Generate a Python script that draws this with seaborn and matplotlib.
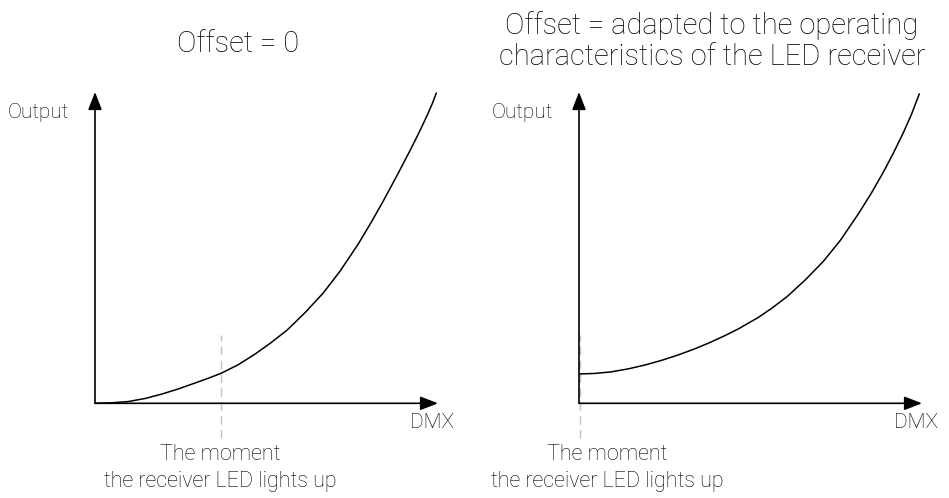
import matplotlib
matplotlib.use("Agg")
import matplotlib.pyplot as plt
import seaborn as sns
import pandas as pd

# curva sem offset (DMX 0-255, saída em %)
dmx_sem_offset = [0, 11.25, 24.75, 37.5, 50.25, 62.25, 75, 84.75, 94.5, 107.25, 120, 132, 144,
                  157.5, 171, 183.75, 197.25, 207, 216, 226.5, 236.25, 243, 249, 252.75, 255.75]
saida_sem_offset = [0, 0.13, 0.55, 1.55, 3.0, 4.61, 6.55, 8.06, 9.68, 12.42, 15.90, 19.58, 23.64,
                    29.28, 35.57, 42.70, 51.38, 58.41, 65.25, 73.63, 81.69, 87.50, 92.98, 96.69, 100.08]

# curva com offset adaptado ao receptor
dmx_com_offset = [0, 12, 24, 36.75, 49.5, 62.25, 74.25, 87, 99, 109.5, 119.25, 134.25, 144.75,
                  156, 169.5, 183, 195.75, 209.25, 219, 228, 235.5, 243, 249, 255]
saida_com_offset = [9.45, 9.64, 10.13, 11.09, 12.35, 13.90, 15.58, 17.61, 19.77, 21.87, 23.96, 27.67,
                    30.74, 34.45, 39.77, 45.74, 52.51, 61.05, 67.75, 74.52, 80.65, 87.26, 93.07, 99.79]

# ponto em que o LED acende
acende_sem_offset = 94.5
acende_com_offset = 0.75

titulos = ["Offset = 0", "Offset = adapted to the operating\ncharacteristics of the LED receiver"]
rotulo_y = "Output"
rotulo_x = "DMX"
rotulo_acende = "The moment\nthe receiver LED lights up"

sns.set_theme(style="white")
plt.rcParams["font.family"] = ["Roboto", "DejaVu Sans"]

W, H = 949, 498
fig = plt.figure(figsize=(W / 100, H / 100), dpi=100)

paineis = [
    dict(x0=95, x1=438, dmx=dmx_sem_offset, saida=saida_sem_offset,
         acende=acende_sem_offset, tit_x=238, tit_y=44, txt_x=220),
    dict(x0=579, x1=922, dmx=dmx_com_offset, saida=saida_com_offset,
         acende=acende_com_offset, tit_x=712, tit_y=41, txt_x=607),
]
y0, y1 = 403.3, 92
XMAX, YMAX = 257, 100.4
px_y = (y0 - y1) / YMAX  # pixels por unidade de saída
cor_txt = "black"
peso = "light"

for i, p in enumerate(paineis):
    ax = fig.add_axes([p["x0"] / W, 1 - y0 / H, (p["x1"] - p["x0"]) / W, (y0 - y1) / H])
    df = pd.DataFrame({"DMX": p["dmx"], "Output": p["saida"]})
    ax.plot([p["acende"], p["acende"]], [-(438 - y0) / px_y, (y0 - 335) / px_y],
            color="#c0c0c0", lw=1.0, ls=(0, (6, 4)), clip_on=False, zorder=1)
    sns.lineplot(data=df, x="DMX", y="Output", ax=ax, color="black", lw=1.1, zorder=3)
    ax.set_xlim(0, XMAX)
    ax.set_ylim(0, YMAX)
    for s in ax.spines.values():
        s.set_visible(False)
    ax.set_xticks([])
    ax.set_yticks([])
    ax.set_xlabel("")
    ax.set_ylabel("")
    seta = dict(arrowstyle="-|>,head_length=0.9,head_width=0.35", color="black", lw=1.2,
                shrinkA=0, shrinkB=0)
    ax.annotate("", xy=(XMAX, 0), xytext=(0, 0), arrowprops=seta, annotation_clip=False, zorder=4)
    ax.annotate("", xy=(0, YMAX), xytext=(0, 0), arrowprops=seta, annotation_clip=False, zorder=4)

    fig.text((p["x0"] - 26) / W, 1 - 112 / H, rotulo_y, ha="right", va="center",
             fontsize=15, fontweight=peso, color=cor_txt)
    fig.text((p["x1"] + 16) / W, 1 - 422 / H, rotulo_x, ha="right", va="center",
             fontsize=15, fontweight=peso, color=cor_txt)
    fig.text(p["txt_x"] / W, 1 - 468 / H, rotulo_acende, ha="center", va="center",
             fontsize=15.5, fontweight=peso, color=cor_txt, linespacing=1.4)
    fig.text(p["tit_x"] / W, 1 - p["tit_y"] / H, titulos[i], ha="center", va="center",
             fontsize=21, fontweight=peso, color=cor_txt, linespacing=1.1)

fig.savefig("out.png", dpi=100)
